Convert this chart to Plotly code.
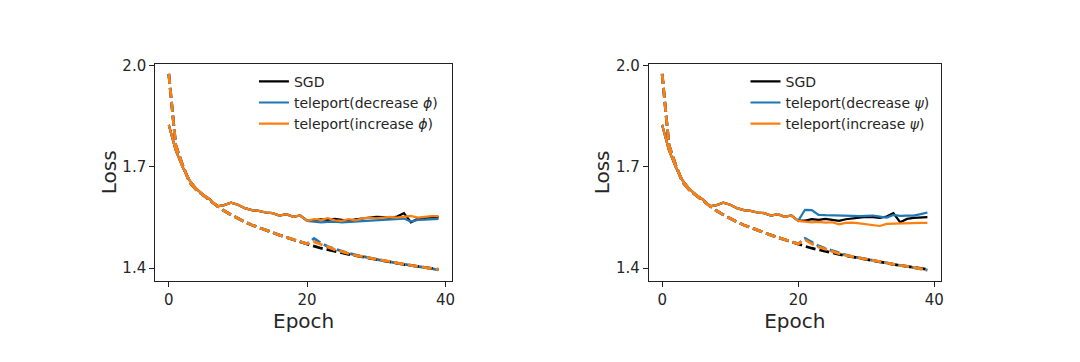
import plotly.graph_objects as go

# ---------------- data ----------------
epochs = list(range(40))

# shared SGD run (same in both panels)
sgd_train = [1.976, 1.765, 1.705, 1.655, 1.632, 1.615, 1.600, 1.585, 1.570, 1.558,
             1.547, 1.537, 1.528, 1.520, 1.512, 1.505, 1.498, 1.491, 1.484, 1.478,
             1.472, 1.465, 1.459, 1.454, 1.449, 1.445, 1.441, 1.437, 1.433, 1.429,
             1.425, 1.422, 1.418, 1.415, 1.411, 1.408, 1.405, 1.402, 1.399, 1.396]
sgd_test = [1.825, 1.750, 1.700, 1.660, 1.635, 1.617, 1.603, 1.583, 1.587, 1.594,
            1.588, 1.578, 1.572, 1.570, 1.565, 1.563, 1.556, 1.560, 1.552, 1.556,
            1.541, 1.541, 1.545, 1.543, 1.546, 1.542, 1.540, 1.545, 1.548, 1.550,
            1.552, 1.551, 1.549, 1.553, 1.563, 1.536, 1.546, 1.549, 1.550, 1.551]

# teleport runs branch off the SGD run at epoch 20 (values for epochs 20..39)
phi_dec_train = [1.472, 1.488, 1.474, 1.464, 1.457, 1.450, 1.444, 1.439, 1.434, 1.430,
                 1.426, 1.422, 1.418, 1.415, 1.411, 1.408, 1.405, 1.402, 1.398, 1.395]
phi_dec_test = [1.540, 1.537, 1.536, 1.537, 1.538, 1.536, 1.537, 1.539, 1.540, 1.541,
                1.541, 1.543, 1.545, 1.545, 1.547, 1.538, 1.543, 1.544, 1.545, 1.546]
phi_inc_train = [1.472, 1.478, 1.470, 1.462, 1.455, 1.449, 1.443, 1.438, 1.434, 1.430,
                 1.426, 1.422, 1.419, 1.415, 1.412, 1.408, 1.405, 1.402, 1.399, 1.396]
phi_inc_test = [1.540, 1.545, 1.543, 1.548, 1.542, 1.540, 1.545, 1.542, 1.548, 1.550,
                1.548, 1.550, 1.552, 1.550, 1.553, 1.555, 1.550, 1.553, 1.554, 1.554]

psi_dec_train = [1.472, 1.488, 1.476, 1.466, 1.458, 1.451, 1.445, 1.439, 1.434, 1.430,
                 1.426, 1.422, 1.418, 1.415, 1.411, 1.408, 1.405, 1.402, 1.398, 1.394]
psi_dec_test = [1.540, 1.573, 1.572, 1.558, 1.557, 1.557, 1.557, 1.557, 1.555, 1.554,
                1.556, 1.556, 1.553, 1.550, 1.558, 1.555, 1.556, 1.556, 1.560, 1.565]
psi_inc_train = [1.472, 1.484, 1.472, 1.463, 1.456, 1.449, 1.443, 1.438, 1.434, 1.430,
                 1.426, 1.422, 1.419, 1.415, 1.412, 1.408, 1.405, 1.402, 1.399, 1.395]
psi_inc_test = [1.540, 1.538, 1.536, 1.537, 1.535, 1.536, 1.530, 1.534, 1.535, 1.533,
                1.530, 1.528, 1.525, 1.531, 1.532, 1.531, 1.533, 1.534, 1.534, 1.534]

labels_left = ["SGD", "teleport(decrease <i>ϕ</i>)", "teleport(increase <i>ϕ</i>)"]
labels_right = ["SGD", "teleport(decrease <i>ψ</i>)", "teleport(increase <i>ψ</i>)"]
y_ticks = [1.4, 1.7, 2.0]
x_ticks = [0, 20, 40]

colors = ["#000000", "#1f77b4", "#ff7f0e"]
FONT = "DejaVu Sans"
TXT = "#262626"


def full(base, tail):
    # teleport runs share the SGD history up to epoch 20
    return base[:20] + tail


fig = go.Figure()

panels = [
    ("x", "y", "legend", labels_left,
     [(sgd_train, sgd_test),
      (full(sgd_train, phi_dec_train), full(sgd_test, phi_dec_test)),
      (full(sgd_train, phi_inc_train), full(sgd_test, phi_inc_test))]),
    ("x2", "y2", "legend2", labels_right,
     [(sgd_train, sgd_test),
      (full(sgd_train, psi_dec_train), full(sgd_test, psi_dec_test)),
      (full(sgd_train, psi_inc_train), full(sgd_test, psi_inc_test))]),
]

for xa, ya, leg, labels, series in panels:
    for (tr, te), lab, col in zip(series, labels, colors):
        fig.add_trace(go.Scatter(
            x=epochs, y=te, mode="lines", name=lab, legend=leg,
            line=dict(color=col, width=2.2), xaxis=xa, yaxis=ya, showlegend=True))
        fig.add_trace(go.Scatter(
            x=epochs, y=tr, mode="lines", name=lab, legend=leg,
            line=dict(color=col, width=2.8, dash="10px,4px"),
            xaxis=xa, yaxis=ya, showlegend=False))

axis_common = dict(
    showgrid=False, zeroline=False, showline=True, linecolor="#222222",
    linewidth=1.2, mirror=True, ticks="outside", ticklen=5, tickwidth=1.2,
    tickcolor="#222222", tickfont=dict(family=FONT, size=15, color=TXT),
)
title_font = dict(family=FONT, size=20, color=TXT)
ydom = [0.2293, 0.8390]

fig.update_layout(
    width=1080, height=362,
    paper_bgcolor="white", plot_bgcolor="white",
    margin=dict(l=0, r=0, t=0, b=0),
    showlegend=True,
    xaxis=dict(domain=[0.1442, 0.4197], range=[-1.95, 40.95], tickvals=x_ticks,
               title=dict(text="Epoch", font=title_font, standoff=2),
               anchor="y", **axis_common),
    yaxis=dict(domain=ydom, range=[1.363, 2.005], tickvals=y_ticks,
               tickformat=".1f",
               title=dict(text="Loss", font=title_font, standoff=0),
               anchor="x", **axis_common),
    xaxis2=dict(domain=[0.6025, 0.8734], range=[-1.95, 40.95], tickvals=x_ticks,
                title=dict(text="Epoch", font=title_font, standoff=2),
                anchor="y2", **axis_common),
    yaxis2=dict(domain=ydom, range=[1.363, 2.005], tickvals=y_ticks,
                tickformat=".1f",
                title=dict(text="Loss", font=title_font, standoff=0),
                anchor="x2", **axis_common),
    legend=dict(x=0.2358, y=0.8346, xanchor="left", yanchor="top",
                bgcolor="rgba(0,0,0,0)", borderwidth=0,
                font=dict(family=FONT, size=14, color=TXT), tracegroupgap=0),
    legend2=dict(x=0.6922, y=0.8346, xanchor="left", yanchor="top",
                 bgcolor="rgba(0,0,0,0)", borderwidth=0,
                 font=dict(family=FONT, size=14, color=TXT), tracegroupgap=0),
    font=dict(family=FONT),
)

fig.write_html("out.html",
               config={"displayModeBar": False},
               post_script="document.body.style.margin='0';document.body.style.padding='0';")
